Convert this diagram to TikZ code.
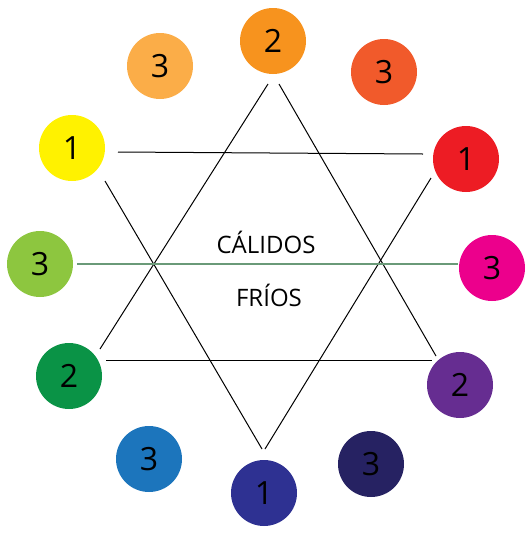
\documentclass[tikz,border=0pt]{standalone}
\usepackage{fontspec}
\setmainfont{Open Sans}
\definecolor{cOrange}{HTML}{F7931E}
\definecolor{cLtOrange}{HTML}{FBAD48}
\definecolor{cRedOrange}{HTML}{F15A2B}
\definecolor{cYellow}{HTML}{FFF200}
\definecolor{cRed}{HTML}{ED1C24}
\definecolor{cYGreen}{HTML}{8DC63F}
\definecolor{cMagenta}{HTML}{EC008C}
\definecolor{cGreen}{HTML}{0A9346}
\definecolor{cPurple}{HTML}{662D91}
\definecolor{cBlue}{HTML}{1C75BC}
\definecolor{cNavy}{HTML}{262262}
\definecolor{cDkBlue}{HTML}{2E3192}
\definecolor{cLine}{HTML}{6A9A78}
\begin{document}
\begin{tikzpicture}[x=1pt,y=-1pt,
  dot/.style={circle,minimum size=66pt,inner sep=0pt,font=\fontsize{32}{32}\selectfont,text=black},
  tri/.style={draw=black,line width=1pt},
  mid/.style={draw=cLine,line width=2pt},
  lbl/.style={font=\fontsize{24}{24}\selectfont,text=black}]
\useasboundingbox (0,0) rectangle (526,539);
\node[dot,fill=cOrange]    (o2)  at (273,41)  {2};
\node[dot,fill=cLtOrange]  (lo3) at (160,66)  {3};
\node[dot,fill=cRedOrange] (ro3) at (384,72)  {3};
\node[dot,fill=cYellow]    (y1)  at (72,148)  {1};
\node[dot,fill=cRed]       (r1)  at (466,159) {1};
\node[dot,fill=cYGreen]    (yg3) at (40,264)  {3};
\node[dot,fill=cMagenta]   (m3)  at (492,268) {3};
\node[dot,fill=cGreen]     (g2)  at (69,376)  {2};
\node[dot,fill=cPurple]    (p2)  at (460,385) {2};
\node[dot,fill=cBlue]      (b3)  at (149,459) {3};
\node[dot,fill=cNavy]      (n3)  at (371,464) {3};
\node[dot,fill=cDkBlue]    (db1) at (264,493) {1};
% line ends
\coordinate (o2a) at (268,84);
\coordinate (o2b) at (279,84);
\coordinate (y1a) at (118,152);
\coordinate (y1b) at (105,181);
\coordinate (r1a) at (423,154);
\coordinate (r1b) at (431,178);
\coordinate (yg3a) at (77,264);
\coordinate (m3a) at (458,264);
\coordinate (g2a) at (100,349);
\coordinate (g2b) at (106,360);
\coordinate (p2a) at (432,360);
\coordinate (p2b) at (436,356);
\coordinate (db1a) at (262,449);
\coordinate (db1b) at (265,449);
\draw[tri] (o2a) -- (g2a);
\draw[tri] (o2b) -- (p2b);
\draw[tri] (g2b) -- (p2a);
\draw[tri] (y1a) -- (r1a);
\draw[tri] (y1b) -- (db1a);
\draw[tri] (r1b) -- (db1b);
\draw[mid] (yg3a) -- (m3a);
\node[lbl] (cal) at (266,242) {CÁLIDOS};
\node[lbl] (fri) at (269,295) {FRÍOS};
\end{tikzpicture}
\end{document}
